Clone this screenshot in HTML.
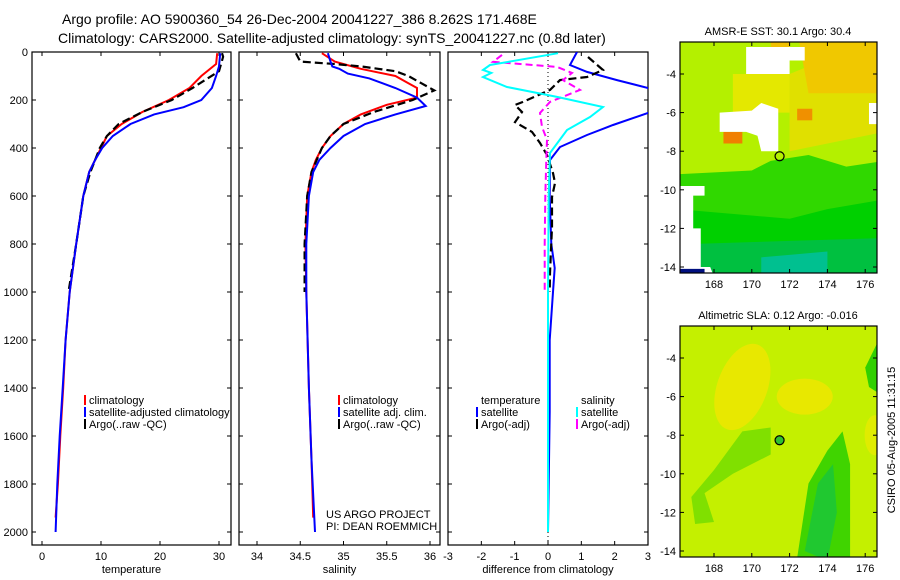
<!DOCTYPE html>
<html><head><meta charset="utf-8"><style>
body{margin:0;background:#fff}
svg{display:block;font-family:"Liberation Sans",sans-serif}
</style></head><body>
<svg id="c" width="900" height="580" viewBox="0 0 900 580">
<text x="62" y="24" font-size="14">Argo profile: AO 5900360_54 26-Dec-2004 20041227_386 8.262S 171.468E</text>
<text x="58" y="43" font-size="14">Climatology: CARS2000. Satellite-adjusted climatology: synTS_20041227.nc (0.8d later)</text>
<g id="g"></g>
</svg>
<script>
// ---- data ----
const tempClimDepth=[5,50,100,150,200,250,300,350,400,450,500,600,800,1000,1200,1400,1600,1800,1940];
const tempClimVal=[29.7,29.5,27,25,21.5,17,13.5,11,10,9,8,7,5.8,4.7,4,3.6,3.1,2.7,2.3];
const tempArgoDepth=[5,20,80,150,200,250,300,350,400,500,600,800,1000];
const tempArgoVal=[30.5,30.7,30,25.5,22,17,13,11,9.8,8.2,7,5.8,4.5];
const tempSatDepth=[5,60,100,150,200,230,260,300,350,400,450,500,600,800,1000,1200,1400,1600,1800,2000];
const tempSatVal=[30.2,30,29.5,28.8,27,24,19,15,12,10.2,9,8,7,5.8,4.7,4,3.5,3,2.6,2.3];
const salClimDepth=[5,40,70,100,130,150,190,220,260,300,350,400,450,500,600,800,1000,1400,1700,1940];
const salClimVal=[34.75,34.9,35.2,35.6,35.75,35.85,35.85,35.5,35.2,35,34.85,34.75,34.68,34.63,34.58,34.56,34.57,34.6,34.63,34.65];
const salSatDepth=[5,40,60,70,90,110,150,190,225,260,300,350,400,450,500,600,800,1000,1400,1700,2000];
const salSatVal=[34.82,34.85,34.87,34.95,35.05,35.3,35.6,35.85,35.95,35.6,35.25,35,34.85,34.72,34.65,34.6,34.57,34.57,34.6,34.63,34.67];
const salArgoDepth=[5,40,50,60,80,100,130,160,200,250,300,350,400,500,600,800,1000];
const salArgoVal=[34.45,34.5,34.9,35.2,35.6,35.75,35.9,36.05,35.8,35.35,35,34.85,34.75,34.63,34.58,34.55,34.55];
const dTempSatDepth=[0,54,83,117,150,200,254,304,346,396,450,600,800,900,1000,1200,1500,2000];
const dTempSatVal=[0.87,0.66,1.17,2.07,3,4,3,1.95,1.17,0.36,0.06,0.05,0.1,0.2,0.15,0.05,0.05,0];
const dSalSatDepth=[5,54,75,87,104,146,187,229,271,325,421,600,1000,1500,2000];
const dSalSatVal=[0.3,-1.74,-1.95,-1.7,-1.95,-1.23,0.27,1.65,1.26,0.57,0.06,0.02,0,0,0];
const dSalArgoDepth=[12,41,62,87,117,158,208,254,312,366,450,600,800,1000];
const dSalArgoVal=[-1.38,-1.65,0.27,0.72,0.45,0.96,0.06,-0.24,-0.18,-0.03,-0.05,-0.08,-0.1,-0.1];
const dTempArgoDepth=[21,75,104,117,158,208,221,250,292,333,379,429,504,546,604,729,921,1000];
const dTempArgoVal=[1.2,1.65,1.17,0.36,0.06,-0.75,-0.99,-0.78,-0.99,-0.48,-0.24,-0.03,0.15,0.21,0.12,0.12,0.06,0.05];
const depthTicks=[0,200,400,600,800,1000,1200,1400,1600,1800,2000];
const tempTicks=[0,10,20,30];
const salTicks=[34,34.5,35,35.5,36];
const diffTicks=[-3,-2,-1,0,1,2,3];
const latTicks=[-4,-6,-8,-10,-12,-14];
const lonTicks=[168,170,172,174,176];

const NS="http://www.w3.org/2000/svg";
const G=document.getElementById('g');
function el(t,a,p){const e=document.createElementNS(NS,t);for(const k in a)e.setAttribute(k,a[k]);(p||G).appendChild(e);return e;}
const yD=d=>52+d*0.24;
const panels=[
 {x0:32,x1:231,sx:v=>42+v*5.9,ticks:tempTicks,lab:'temperature',name:'temperature-panel'},
 {x0:239,x1:440,sx:v=>257+(v-34)*86.5,ticks:salTicks,lab:'salinity',name:'salinity-panel'},
 {x0:448,x1:648,sx:v=>548+v*33.33,ticks:diffTicks,lab:'difference from climatology',name:'difference-panel'}];
panels.forEach((p,i)=>{
 const cp=el('clipPath',{id:'cp'+i});el('rect',{x:p.x0,y:52,width:p.x1-p.x0,height:493},cp);
 const f=el('rect',{x:p.x0,y:52,width:p.x1-p.x0,height:493,fill:'none',stroke:'#000','stroke-width':1.2});
 
 
 depthTicks.forEach(d=>{const y=yD(d);
  el('line',{x1:p.x0,x2:p.x0+4,y1:y,y2:y,stroke:'#000'});el('line',{x1:p.x1,x2:p.x1-4,y1:y,y2:y,stroke:'#000'});
  if(i==0){const t=el('text',{x:28,y:y+4,'font-size':11,'text-anchor':'end'});t.textContent=d;
   
   }
 });
 p.ticks.forEach(v=>{const x=p.sx(v);
  el('line',{x1:x,x2:x,y1:545,y2:541,stroke:'#000'});el('line',{x1:x,x2:x,y1:52,y2:56,stroke:'#000'});
  const t=el('text',{x:x,y:560,'font-size':11,'text-anchor':'middle'});t.textContent=v;
  
  
 });
 const xl=el('text',{x:(p.x0+p.x1)/2,y:573,'font-size':11,'text-anchor':'middle'});xl.textContent=p.lab;
 
 
});
el('line',{x1:548,x2:548,y1:52,y2:545,stroke:'#000','stroke-dasharray':'1,3'});
function line(i,ds,vs,color,dash,w,name){
 const p=panels[i];let d='';ds.forEach((dd,k)=>{d+=(k?'L':'M')+p.sx(vs[k]).toFixed(1)+','+yD(dd).toFixed(1);});
 const e=el('path',{d:d,fill:'none',stroke:color,'stroke-width':w||2,'clip-path':'url(#cp'+i+')'});
 if(dash)e.setAttribute('stroke-dasharray',dash);
 
 
}
line(0,tempClimDepth,tempClimVal,'#f00',null,2,'temp-climatology-line');
line(0,tempArgoDepth,tempArgoVal,'#000','8,4',2.2,'temp-argo-line');
line(0,tempSatDepth,tempSatVal,'#00f',null,2,'temp-satellite-line');
line(1,salClimDepth,salClimVal,'#f00',null,2,'sal-climatology-line');
line(1,salArgoDepth,salArgoVal,'#000','8,4',2.2,'sal-argo-line');
line(1,salSatDepth,salSatVal,'#00f',null,2,'sal-satellite-line');
line(2,dTempSatDepth,dTempSatVal,'#00f',null,2,'diff-temp-satellite-line');
line(2,dTempArgoDepth,dTempArgoVal,'#000','8,4',2.2,'diff-temp-argo-line');
line(2,dSalArgoDepth,dSalArgoVal,'#f0f','7,4',2,'diff-sal-argo-line');
line(2,dSalSatDepth,dSalSatVal,'#0ff',null,2,'diff-sal-satellite-line');
function leg(x,y,color,txt,name){
 if(color){const b=el('rect',{x:x-5,y:y-9,width:2,height:10,fill:color});}
 const t=el('text',{x:x,y:y,'font-size':11});t.textContent=txt;
 
 
}
leg(89,404,'#f00','climatology','legend-climatology');
leg(89,416,'#00f','satellite-adjusted climatology','legend-satellite');
leg(89,428,'#000','Argo(..raw -QC)','legend-argo');
leg(343,404,'#f00','climatology','legend-sal-climatology');
leg(343,416,'#00f','satellite adj. clim.','legend-sal-satellite');
leg(343,428,'#000','Argo(..raw -QC)','legend-sal-argo');
leg(326,518,null,'US ARGO PROJECT','project-label');
leg(326,530,null,'PI: DEAN ROEMMICH','pi-label');
leg(481,404,null,'temperature','legend-temp-header');
leg(481,416,'#00f','satellite','legend-diff-temp-satellite');
leg(481,428,'#000','Argo(-adj)','legend-diff-temp-argo');
leg(581,404,null,'salinity','legend-sal-header');
leg(581,416,'#0ff','satellite','legend-diff-sal-satellite');
leg(581,428,'#f0f','Argo(-adj)','legend-diff-sal-argo');

// ---- maps ----
function map(top,name,title,kind){
 const lx=l=>714+(l-168)*18.9;const ly=a=>top+32+(-4-a)*19.3;
 const cid='mc'+name;const cp=el('clipPath',{id:cid});el('rect',{x:680,y:top,width:197,height:231},cp);
 const g=el('g',{'clip-path':'url(#'+cid+')'});
 
 
 const poly=(pts,fill)=>el('polygon',{points:pts.map(p=>lx(p[0])+','+ly(p[1])).join(' '),fill:fill},g);
 if(kind==0){
  el('rect',{x:680,y:top,width:197,height:231,fill:'#b4f000'},g);
  poly([[166,-9.2],[170,-9],[171,-8.5],[173,-8.2],[175,-8.8],[177,-8.5],[177,-15],[166,-15]],'#30d800');
  poly([[166,-11],[172,-11.5],[174,-11],[177,-10.5],[177,-15],[166,-15]],'#00d000');
  poly([[167,-12.8],[177,-12.5],[177,-15],[167,-15]],'#00c040');
  poly([[170.5,-13.5],[174,-13.2],[174,-15],[170.5,-15]],'#00c090');
  poly([[172,-4],[177,-2],[177,-7],[172,-8]],'#e0e000');
  poly([[172.5,-2.3],[177,-2.3],[177,-5],[173,-5]],'#f0c800');
  poly([[169,-4],[172,-4],[172,-6],[169,-6]],'#e4e800');
  poly([[168.5,-7],[169.5,-7],[169.5,-7.6],[168.5,-7.6]],'#f08000');
  poly([[172.4,-5.8],[173.2,-5.8],[173.2,-6.4],[172.4,-6.4]],'#f09000');
  poly([[171,-2.3],[172,-2.3],[172,-2.8],[171,-2.8]],'#f0c000');
  const w='#fff';
  poly([[169.7,-2.6],[172.8,-2.6],[172.8,-3.3],[172,-3.3],[172,-4],[169.7,-4]],w);
  poly([[168.3,-6],[170,-5.9],[170.5,-5.5],[171.4,-5.8],[171.4,-8],[170.5,-8],[170.3,-7.2],[169.7,-7],[168.3,-7]],w);
  poly([[166,-9.8],[167.5,-9.8],[167.5,-10.3],[166.9,-10.3],[166.9,-12],[167.3,-12],[167.3,-14],[166,-14]],w);
  poly([[166,-14],[167.8,-14],[168.2,-15],[166,-15]],w);
  poly([[166,-14.1],[167.5,-14.1],[167.5,-15],[166,-15]],'#001080');
  poly([[176.2,-5.5],[177,-5.5],[177,-6.6],[176.2,-6.6]],w);
  el('circle',{cx:lx(171.47),cy:ly(-8.26),r:4.5,fill:'none',stroke:'#000','stroke-width':1.2});
 }else{
  el('rect',{x:680,y:top,width:197,height:231,fill:'#c4f000'},g);
  el('ellipse',{cx:lx(169.5),cy:ly(-5.5),rx:25,ry:45,fill:'#e8e800',transform:'rotate(20 '+lx(169.5)+' '+ly(-5.5)+')'},g);
  el('ellipse',{cx:lx(172.8),cy:ly(-6),rx:28,ry:18,fill:'#e8e800'},g);
  el('ellipse',{cx:lx(176.5),cy:ly(-8),rx:10,ry:20,fill:'#e0ec00'},g);
  poly([[169.5,-7.8],[171,-7.6],[171,-9],[169,-10],[167.5,-11],[168,-12.5],[167,-12.6],[166.8,-11.2],[168,-9.8]],'#80e000');
  poly([[172.3,-15],[173,-10.5],[174,-8.8],[174.8,-7.8],[175.2,-9.5],[175.2,-15]],'#40d400');
  poly([[172.8,-14],[173.5,-10.5],[174.3,-9.5],[174.5,-12],[174,-14.5]],'#20c830');
  poly([[176,-4.5],[177,-2.5],[177,-6],[176.2,-5.5]],'#30d000');
  el('circle',{cx:lx(171.47),cy:ly(-8.26),r:4.5,fill:'#30c030',stroke:'#000','stroke-width':1.2});
 }
 el('rect',{x:680,y:top,width:197,height:231,fill:'none',stroke:'#000','stroke-width':1.2});
 latTicks.forEach(a=>{const y=ly(a);el('line',{x1:680,x2:684,y1:y,y2:y,stroke:'#000'});el('line',{x1:877,x2:873,y1:y,y2:y,stroke:'#000'});
  const t=el('text',{x:676,y:y+4,'font-size':11,'text-anchor':'end'});t.textContent=a;
  
  });
 lonTicks.forEach(l=>{const x=lx(l);el('line',{x1:x,x2:x,y1:top+231,y2:top+227,stroke:'#000'});el('line',{x1:x,x2:x,y1:top,y2:top+4,stroke:'#000'});
  const t=el('text',{x:x,y:top+246,'font-size':11,'text-anchor':'middle'});t.textContent=l;
  
  });
 const tt=el('text',{x:778,y:top-7,'font-size':11,'text-anchor':'middle'});tt.textContent=title;
 
 
}
map(42,'sst-map','AMSR-E SST: 30.1 Argo: 30.4',0);
map(326,'sla-map','Altimetric SLA: 0.12 Argo: -0.016',1);
const cs=el('text',{x:0,y:0,'font-size':11,'text-anchor':'middle',transform:'translate(895,440) rotate(-90)'});
cs.textContent='CSIRO 05-Aug-2005 11:31:15';


</script>
</body></html>
